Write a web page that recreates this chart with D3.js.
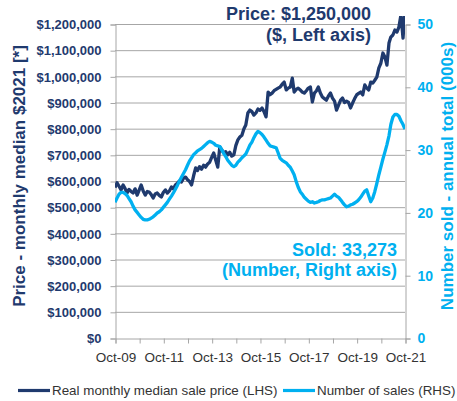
<!DOCTYPE html>
<html>
<head>
<meta charset="utf-8">
<script src="https://cdn.jsdelivr.net/npm/d3@7"></script>
<style>
  body { margin: 0; background: #fff; }
  svg { display: block; }
</style>
</head>
<body>
<div id="chart"></div>
<script>
// monthly series, Oct-09 .. Oct-21
var startMonth = new Date(2009, 9, 1);

// real monthly median sale price, $ thousands (LHS)
var priceValues = [
  575, 593, 580, 566, 585, 572, 554, 568, 560, 554, 570, 546,
  565, 585, 562, 546, 560, 558, 548, 535, 550, 554, 545, 539,
  556, 566, 554, 562, 577, 570, 585, 592, 600, 596, 611, 615,
  605, 598, 585, 620, 650, 640, 655, 645, 660, 653, 665, 672,
  690, 707, 680, 653, 730, 720, 707, 712, 700, 710, 695, 700,
  735, 757, 768, 775, 800, 814, 860, 871, 865, 852, 860, 875,
  870, 879, 865, 845, 940, 930, 936, 945, 950, 955, 959, 970,
  978, 948, 955, 959, 993, 940, 950, 955, 948, 940, 936, 945,
  955, 959, 902, 936, 945, 959, 936, 921, 915, 909, 925, 936,
  917, 905, 871, 890, 909, 917, 900, 905, 900, 879, 898, 915,
  929, 935, 940, 929, 967, 955, 948, 978, 974, 985, 997, 1032,
  1050, 1089, 1074, 1043, 1127, 1150, 1158, 1177, 1169, 1188, 1235, 1146,
  1250
];

// number of sales, annual total (000s) (RHS)
var salesValues = [
  21.6, 22.3, 22.9, 23.2, 23.2, 23.0, 22.7, 22.2, 21.7, 21.0, 20.4, 20.0,
  19.6, 19.2, 18.9, 18.8, 18.8, 18.9, 19.1, 19.3, 19.6, 19.9, 20.1, 20.4,
  20.8, 21.2, 21.6, 22.1, 22.6, 23.1, 23.7, 24.3, 25.0, 25.6, 26.2, 26.8,
  27.5, 28.2, 28.7, 29.2, 29.5, 29.8, 30.0, 30.2, 30.5, 30.8, 31.1, 31.3,
  31.2, 31.0, 30.7, 30.6, 30.5, 30.0, 29.4, 28.9, 28.3, 27.9, 27.5, 27.3,
  27.5, 28.0, 28.3, 28.7, 29.0, 29.3, 30.0, 30.7, 31.2, 31.9, 32.5, 32.9,
  32.7, 32.4, 32.0, 31.5, 31.0, 30.6, 30.5, 30.4, 30.3, 29.5, 28.6, 28.3,
  28.1, 27.9, 27.5, 27.2, 26.6, 26.0, 24.9, 24.0, 23.3, 22.9, 22.4, 22.1,
  21.8, 21.6, 21.7, 21.5, 21.6, 21.7, 21.9, 22.0, 22.0, 22.1, 22.2, 22.3,
  22.6, 22.9, 22.6, 22.4, 22.0, 21.6, 21.2, 20.9, 21.0, 21.2, 21.3, 21.5,
  21.7, 22.0, 22.4, 22.9, 23.4, 23.6, 22.6, 21.7, 22.3, 23.3, 24.6, 26.0,
  27.2, 28.5, 29.6, 30.8, 32.2, 34.0, 35.2, 35.6, 35.6, 35.3, 34.6, 34.0,
  33.273
];

var leftTicks = [0, 100, 200, 300, 400, 500, 600, 700, 800, 900, 1000, 1100, 1200];
var rightTicks = [0, 10, 20, 30, 40, 50];
var seriesNames = ["Real monthly median sale price (LHS)", "Number of sales (RHS)"];

var darkBlue = "#1f3a6e", lightBlue = "#00b0f0", gridColor = "#a6a6a6";

var width = 457, height = 401;
var margin = { top: 24, right: 52, bottom: 63, left: 115 };
var w = width - margin.left - margin.right,
    h = height - margin.top - margin.bottom;

var svg = d3.select("#chart").append("svg")
    .attr("width", width)
    .attr("height", height);

var dates = priceValues.map(function(d, i) { return d3.timeMonth.offset(startMonth, i); });

var x = d3.scaleTime()
    .domain([startMonth, new Date(2021, 9, 1)])
    .range([margin.left, margin.left + w]);
var yL = d3.scaleLinear().domain([0, 1200]).range([margin.top + h, margin.top]);
var yR = d3.scaleLinear().domain([0, 50]).range([margin.top + h, margin.top]);

// gridlines
svg.append("g").selectAll("line")
    .data(leftTicks.slice(1))
    .enter().append("line")
    .attr("x1", margin.left).attr("x2", margin.left + w)
    .attr("y1", function(d) { return yL(d) + 0.5; })
    .attr("y2", function(d) { return yL(d) + 0.5; })
    .attr("stroke", gridColor).attr("stroke-width", 1);

// left axis
var leftAxis = svg.append("g")
    .attr("transform", "translate(" + (margin.left + 0.5) + ",0.5)")
    .call(d3.axisLeft(yL).tickValues(leftTicks).tickSize(5).tickPadding(9)
        .tickFormat(function(d) { return "$" + d3.format(",")(d * 1000); }));
leftAxis.selectAll("path, line").attr("stroke", gridColor);
leftAxis.selectAll("text")
    .attr("fill", darkBlue)
    .style("font", "bold 13px 'Liberation Sans', Arial, sans-serif");

// right axis
var rightAxis = svg.append("g")
    .attr("transform", "translate(" + (margin.left + w + 0.5) + ",0.5)")
    .call(d3.axisRight(yR).tickValues(rightTicks).tickSize(5).tickPadding(7));
rightAxis.selectAll("path, line").attr("stroke", gridColor);
rightAxis.selectAll("text")
    .attr("fill", lightBlue)
    .style("font", "bold 14px 'Liberation Sans', Arial, sans-serif");

// bottom axis
var xAxis = svg.append("g")
    .attr("transform", "translate(0.5," + (margin.top + h + 0.5) + ")")
    .call(d3.axisBottom(x).tickSize(5).tickPadding(9)
        .tickValues(d3.range(2009, 2022).map(function(y) { return new Date(y, 9, 1); }))
        .tickFormat(function(d, i) { return i % 2 === 0 ? d3.timeFormat("%b-%y")(d) : ""; }));
xAxis.selectAll("path, line").attr("stroke", gridColor);
xAxis.selectAll("text")
    .attr("fill", "#333")
    .style("font", "13.5px 'Liberation Sans', Arial, sans-serif");

// clip to plot area
svg.append("clipPath").attr("id", "plotclip")
  .append("rect")
    .attr("x", margin.left).attr("y", 16)
    .attr("width", w).attr("height", h + 10);

var priceLine = d3.line()
    .x(function(d, i) { return x(dates[i]); })
    .y(function(d) { return yL(d); });
var salesLine = d3.line()
    .x(function(d, i) { return x(dates[i]); })
    .y(function(d) { return yR(d); });

var plot = svg.append("g").attr("clip-path", "url(#plotclip)");
plot.append("path")
    .datum(priceValues)
    .attr("d", priceLine)
    .attr("fill", "none")
    .attr("stroke", darkBlue)
    .attr("stroke-width", 3.3)
    .attr("stroke-linejoin", "round");
plot.append("path")
    .datum(salesValues)
    .attr("d", salesLine)
    .attr("fill", "none")
    .attr("stroke", lightBlue)
    .attr("stroke-width", 3.3)
    .attr("stroke-linejoin", "round");

// axis titles
svg.append("text")
    .attr("transform", "translate(25," + (margin.top + 152) + ") rotate(-90)")
    .attr("text-anchor", "middle")
    .attr("fill", darkBlue)
    .style("font", "bold 17px 'Liberation Sans', Arial, sans-serif")
    .text("Price - monthly median $2021 [*]");
svg.append("text")
    .attr("transform", "translate(453," + (margin.top + 152) + ") rotate(-90)")
    .attr("text-anchor", "middle")
    .attr("fill", lightBlue)
    .style("font", "bold 17px 'Liberation Sans', Arial, sans-serif")
    .text("Number sold - annual total (000s)");

// annotations
var ann = [
  { t: "Price: $1,250,000", y: 20, c: darkBlue },
  { t: "($, Left axis)", y: 41, c: darkBlue },
  { t: "Sold: 33,273", y: 256, c: lightBlue },
  { t: "(Number, Right axis)", y: 276, c: lightBlue }
];
svg.selectAll("text.ann")
    .data(ann)
    .enter().append("text")
    .attr("class", "ann")
    .attr("x", function(d, i) { return i < 2 ? 371 : 397; })
    .attr("y", function(d) { return d.y; })
    .attr("text-anchor", "end")
    .attr("fill", function(d) { return d.c; })
    .style("font", "bold 18px 'Liberation Sans', Arial, sans-serif")
    .text(function(d) { return d.t; });

// legend
var legend = svg.append("g");
var legX = [18, 283];
seriesNames.forEach(function(name, i) {
    legend.append("line")
        .attr("x1", legX[i]).attr("x2", legX[i] + 32)
        .attr("y1", 390.5).attr("y2", 390.5)
        .attr("stroke", i === 0 ? darkBlue : lightBlue)
        .attr("stroke-width", 3.2);
    legend.append("text")
        .attr("x", legX[i] + 34).attr("y", 395)
        .attr("fill", "#333")
        .style("font", "13.4px 'Liberation Sans', Arial, sans-serif")
        .text(name);
});
</script>
</body>
</html>
